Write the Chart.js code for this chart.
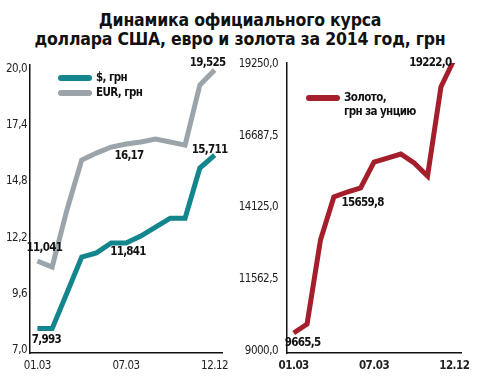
<!DOCTYPE html>
<html><head><meta charset="utf-8">
<script src="https://cdn.jsdelivr.net/npm/chart.js@4.4.1/dist/chart.umd.min.js"></script>
<style>
html,body{margin:0;padding:0;background:#fff;}
#wrap{position:relative;width:480px;height:379px;overflow:hidden;}
#title{position:absolute;left:0;top:11px;width:480px;text-align:center;font-family:"DejaVu Sans Condensed","DejaVu Sans",sans-serif;font-weight:bold;font-size:17.5px;line-height:19px;color:#111;letter-spacing:-0.2px;}
canvas{position:absolute;top:0;}
#c1{left:0;} #c2{left:230px;}
</style></head><body>
<div id="wrap">
<div id="title">Динамика официального курса<br>доллара США, евро и золота за 2014 год, грн</div>
<canvas id="c1" width="240" height="379"></canvas>
<canvas id="c2" width="250" height="379"></canvas>
</div>
<script>
const dates = ['01.03','','','','','','07.03','','','','','','12.12'];
const usd = [7.99, 7.99, 9.64, 11.3, 11.49, 11.95, 11.95, 12.27, 12.69, 13.1, 13.1, 15.42, 16.02];
const eur = [11.12, 10.84, 13.48, 15.79, 16.11, 16.39, 16.53, 16.62, 16.76, 16.62, 16.48, 19.26, 19.95];
const gold = [9643, 9964, 12964, 14499, 14678, 14821, 15749, 15892, 16035, 15714, 15250, 18427, 19427];
const currencyTicks = [7.0, 9.6, 12.2, 14.8, 17.4, 20.0];
const goldTicks = [9000, 11562.5, 14125, 16687.5, 19250];
const currencyLabels = [
  {ds:1, i:12, text:'19,525', dx:-7, dy:-7},
  {ds:0, i:12, text:'15,711', dx:-5, dy:-5},
  {ds:1, i:6, text:'16,17', dx:3, dy:12},
  {ds:1, i:0, text:'11,041', dx:7, dy:-13},
  {ds:0, i:6, text:'11,841', dx:2, dy:9},
  {ds:0, i:0, text:'7,993', dx:9, dy:11}
];
const goldLabels = [
  {ds:0, i:0, text:'9665,5', dx:9, dy:10},
  {ds:0, i:5, text:'15659,8', dx:2, dy:15},
  {ds:0, i:12, text:'19222,0', dx:-24, dy:4}
];

const NARROW = '"Liberation Sans Narrow","DejaVu Sans Condensed","Arial Narrow",sans-serif';
const TEAL = '#12868c', GRAY = '#9aa4aa', RED = '#a41f2b';

function comma(v){ return v.toFixed(1).replace('.', ','); }

const tightText = {
  id:'tightText',
  beforeInit(chart){ chart.ctx.letterSpacing = '-0.5px'; },
  beforeDraw(chart){ chart.ctx.letterSpacing = '-0.5px'; }
};

function labelPlugin(list){
  return {
    id:'pointLabels',
    afterDatasetsDraw(chart){
      const ctx = chart.ctx;
      ctx.save();
      ctx.letterSpacing = '-0.7px';
      ctx.font = 'bold 11.5px ' + NARROW;
      ctx.fillStyle = '#111';
      ctx.textAlign = 'center';
      ctx.textBaseline = 'middle';
      list.forEach(l=>{
        const p = chart.getDatasetMeta(l.ds).data[l.i];
        ctx.fillText(l.text, p.x + l.dx, p.y + l.dy);
      });
      ctx.restore();
    }
  };
}
function legendPlugin(items){
  return {
    id:'customLegend',
    afterDraw(chart){
      const ctx = chart.ctx;
      ctx.save();
      items.forEach(it=>{
        ctx.strokeStyle = it.color; ctx.lineWidth = 6; ctx.lineCap = 'round';
        ctx.beginPath(); ctx.moveTo(it.x1, it.y); ctx.lineTo(it.x2, it.y); ctx.stroke();
        ctx.letterSpacing = '-0.6px';
        ctx.font = 'bold 11.5px ' + NARROW;
        ctx.fillStyle = '#111'; ctx.textAlign = 'left'; ctx.textBaseline = 'middle';
        it.lines.forEach((t,k)=> ctx.fillText(t, it.x2 + 7, it.y + k*14));
      });
      ctx.restore();
    }
  };
}

function lineDs(label, data, color){
  return {label, data, borderColor:color, backgroundColor:color, borderWidth:5,
    pointRadius:0, tension:0, borderJoinStyle:'miter', borderCapStyle:'butt', fill:false};
}

function baseOptions(yMin, yMax, ticks, yWidth, tickPad, padRight, boldX){
  return {
    responsive:false, animation:false,
    layout:{padding:{top:0, right:padRight, bottom:0, left:0}},
    plugins:{legend:{display:false}, tooltip:{enabled:false}, title:{display:false}},
    scales:{
      x:{type:'category', offset:true,
        grid:{display:false, drawTicks:false},
        border:{display:true, color:'#111', width:1.5},
        ticks:{autoSkip:false, maxRotation:0, padding:6, color:'#222',
          font:{family:NARROW, size:11.5, weight: boldX ? 'bold' : 'normal'}},
        afterFit(s){ s.height = 26; }
      },
      y:{min:yMin, max:yMax,
        grid:{display:false, drawTicks:false},
        border:{display:true, color:'#111', width:1.5},
        ticks:{padding:tickPad, color:'#222', font:{family:NARROW, size:11.5},
          callback:(v)=>comma(v)},
        afterBuildTicks(s){ s.ticks = ticks.map(v=>({value:v})); },
        afterFit(s){ s.width = yWidth; }
      }
    }
  };
}

const opt1 = baseOptions(7 - 3/21.6, 20 + 4/21.6, currencyTicks, 30, 3, 18, false);
opt1.layout.padding.top = 65;
new Chart(document.getElementById('c1'), {
  type:'line',
  data:{labels:dates, datasets:[lineDs('$, грн', usd, TEAL), lineDs('EUR, грн', eur, GRAY)]},
  options:opt1,
  plugins:[tightText, labelPlugin(currencyLabels), legendPlugin([
    {color:TEAL, x1:61, x2:89, y:78, lines:['$, грн']},
    {color:GRAY, x1:61, x2:89, y:93, lines:['EUR, грн']}
  ])]
});

const opt2 = baseOptions(9000 - 2*35.71, 19250 + 1*35.71, goldTicks, 57, 9, 19, true);
opt2.layout.padding.top = 63;
new Chart(document.getElementById('c2'), {
  type:'line',
  data:{labels:dates, datasets:[lineDs('Золото, грн за унцию', gold, RED)]},
  options:opt2,
  plugins:[tightText, labelPlugin(goldLabels), legendPlugin([
    {color:RED, x1:79, x2:107, y:98, lines:['Золото,', 'грн за унцию']}
  ])]
});
</script>
</body></html>
